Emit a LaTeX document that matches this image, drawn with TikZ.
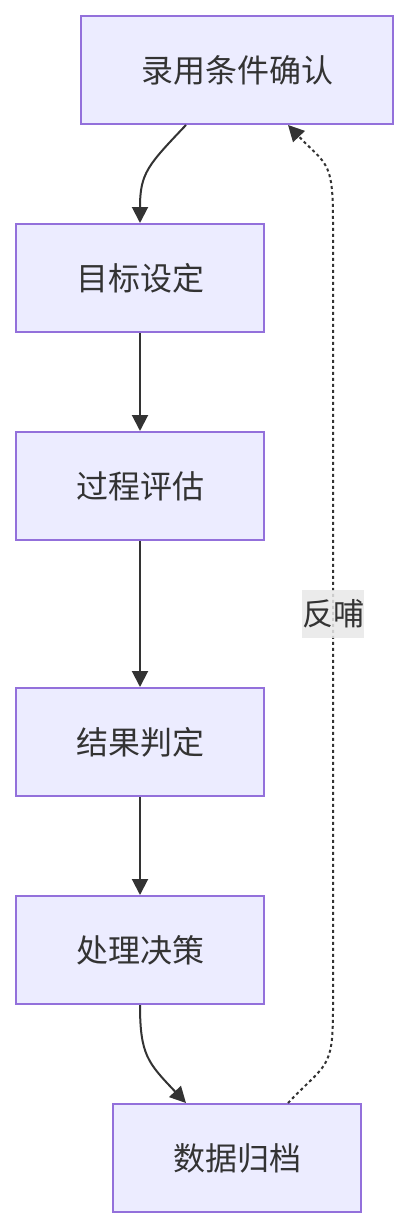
\documentclass[tikz,border=0pt]{standalone}
\usepackage{fontspec}
\setmainfont{Noto Sans CJK SC}
\usetikzlibrary{arrows.meta,positioning}

\definecolor{boxfill}{HTML}{ECECFF}
\definecolor{boxline}{HTML}{9370DB}
\definecolor{ink}{HTML}{333333}
\definecolor{labgray}{HTML}{E8E8E8}

\begin{document}
\begin{tikzpicture}[
            x=1pt,y=-1pt,
            step box/.style={draw=boxline,fill=boxfill,line width=2pt,rectangle,minimum width=248pt,minimum height=108pt,inner sep=0pt,text=ink,font=\fontsize{32}{38}\selectfont},
            wide box/.style={step box,minimum width=312pt},
            lab/.style={fill=labgray,fill opacity=.85,text opacity=1,text=ink,inner xsep=0pt,inner ysep=3pt,minimum height=48pt,font=\fontsize{31}{36}\selectfont},
            flow/.style={draw=ink,line width=2pt,-{Triangle[length=16pt,width=16pt]}},
            back/.style={flow,dash pattern=on 3pt off 3pt}
          ]
          \useasboundingbox (0,0) rectangle (409,1228);

          \node[step box] (goal) at (140,278) {目标设定};
          \node[wide box,above=98pt of goal,xshift=97pt] (hire) {录用条件确认};
          \node[step box,below=98pt of goal] (eval) {过程评估};
          \node[step box,below=146pt of eval] (judge) {结果判定};
          \node[step box,below=98pt of judge] (decide) {处理决策};
          \node[step box,below=98pt of decide,xshift=97pt] (archive) {数据归档};

          %label
          \coordinate (fb) at (333,614);
          \coordinate (fblow) at (333,1010);
          \coordinate (fbhigh) at (333,220);

          %main flow
          \draw[flow] ([xshift=-51pt]hire.south) .. controls +(-38,40) and +(0,-50) .. (goal.north);
          \draw[flow] (goal) -- (eval);
          \draw[flow] (eval) -- (judge);
          \draw[flow] (judge) -- (decide);
          \draw[flow] (decide.south) .. controls +(0,50) and +(-38,-40) .. ([xshift=-51pt]archive.north);

          %feedback
          \draw[back] ([xshift=51pt]archive.north) .. controls +(38,-40) and +(0,60) .. (fblow)
            -- (fb) -- (fbhigh) .. controls +(0,-60) and +(38,40) .. ([xshift=51pt]hire.south);
          \node[lab] (fblab) at (fb) {反哺};
      \end{tikzpicture}
\end{document}
